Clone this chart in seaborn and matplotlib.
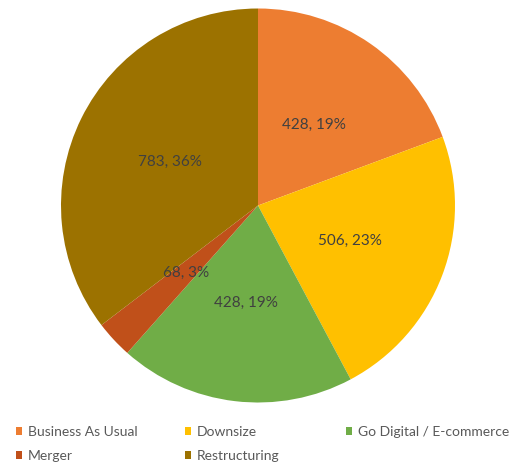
import matplotlib
matplotlib.use("Agg")
import matplotlib.pyplot as plt
import seaborn as sns
import numpy as np

categories = ["Business As Usual", "Downsize", "Go Digital / E-commerce", "Merger", "Restructuring"]
counts = [428, 506, 428, 68, 783]
palette = ["#ED7D31", "#FFC000", "#70AD47", "#C0501A", "#9C7200"]


def whole_percents(values):
    """Percentages rounded to whole numbers that still add up to 100."""
    shares = np.array(values, dtype=float) / sum(values) * 100
    base = np.floor(shares).astype(int)
    left = 100 - base.sum()
    order = np.argsort(-(shares - base))
    base[order[:left]] += 1
    return base


sns.set_theme(style="white")
plt.rcParams["font.family"] = ["Lato", "DejaVu Sans"]

W, H = 513, 469
fig = plt.figure(figsize=(W / 100, H / 100), dpi=100)
fig.patch.set_facecolor("white")

cx, cy, r = 258, 205.5, 197
ax = fig.add_axes([(cx - r) / W, (H - cy - r) / H, 2 * r / W, 2 * r / H])

pcts = whole_percents(counts)
labels_txt = [f"{v}, {p}%" for v, p in zip(counts, pcts)]

wedges, texts = ax.pie(
    counts,
    colors=sns.color_palette(palette),
    startangle=90,
    counterclock=False,
    labels=labels_txt,
    labeldistance=0.5,
    wedgeprops=dict(linewidth=0),
    textprops=dict(color="#404040", fontsize=11),
)
for t in texts:
    t.set_ha("center")
    t.set_va("center")
ax.set_xlim(-1, 1)
ax.set_ylim(-1, 1)
ax.set_aspect("equal")
ax.axis("off")

# legend entries placed in a 3-column grid below the pie
slots = {0: (16, 432), 1: (185, 432), 2: (346, 432), 3: (16, 456), 4: (185, 456)}
for i, (x0, y0) in slots.items():
    fig.legend(
        [wedges[i]],
        [categories[i]],
        loc="center left",
        bbox_to_anchor=(x0 / W, 1 - y0 / H),
        frameon=False,
        fontsize=10,
        handlelength=0.45,
        handleheight=0.45,
        handletextpad=0.42,
        borderpad=0,
        borderaxespad=0,
        labelcolor="#595959",
    )

fig.savefig("out.png", dpi=100, facecolor="white")
